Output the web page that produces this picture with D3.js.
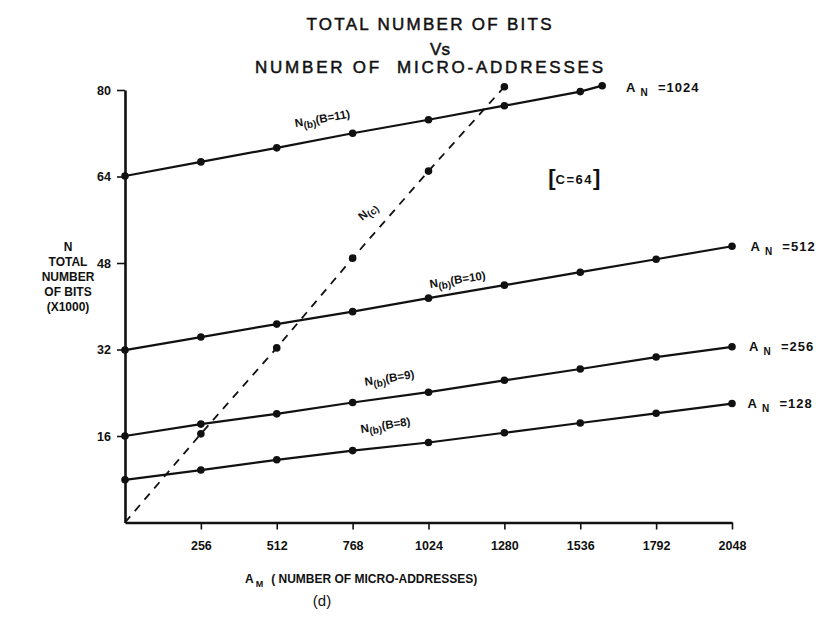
<!DOCTYPE html>
<html lang="en">
<head>
<meta charset="utf-8">
<title>Total number of bits vs number of micro-addresses</title>
<script src="https://d3js.org/d3.v7.min.js"></script>
<style>
  body { margin: 0; background: #fff; }
  svg text { font-family: "Liberation Sans", Arial, sans-serif; fill: #111; }
</style>
</head>
<body>
<script>
// values (N in thousands of bits)
const addrTicks = [256, 512, 768, 1024, 1280, 1536, 1792, 2048];
const bitTicks = [16, 32, 48, 64, 80];

const addr = [0, 256, 512, 768, 1024, 1280, 1536, 1792, 2048];
const b11Addr = [0, 256, 512, 768, 1024, 1280, 1536, 1610];
const b11Bits = [64.1, 66.7, 69.3, 72.0, 74.5, 77.1, 79.7, 80.8];
const b10Bits = [31.9, 34.3, 36.7, 39.0, 41.5, 43.9, 46.3, 48.7, 51.1];
const b9Bits = [16.0, 18.2, 20.1, 22.2, 24.1, 26.3, 28.4, 30.6, 32.5];
const b8Bits = [7.9, 9.7, 11.6, 13.3, 14.8, 16.6, 18.4, 20.2, 22.0];
const ncAddr = [0, 256, 512, 768, 1024, 1280];
const ncBits = [0, 16.4, 32.3, 48.9, 65.0, 80.6];

const W = 833, H = 624;
const svg = d3.select("body").append("svg")
    .attr("width", W).attr("height", H);

const x = d3.scaleLinear().domain([0, 2048]).range([125, 732]);
const y = d3.scaleLinear().domain([0, 80]).range([522.5, 90]);

// title
const title = [
    {t: "TOTAL NUMBER OF BITS", x: 429, y: 30, len: 245},
    {t: "Vs", x: 440, y: 55, len: 0},
    {t: "NUMBER OF  MICRO-ADDRESSES", x: 429, y: 73, len: 348}
];
title.forEach(d => {
    const tx = svg.append("text")
        .attr("x", d.x).attr("y", d.y)
        .attr("text-anchor", "middle")
        .attr("stroke", "#111").attr("stroke-width", 0.5)
        .style("font-size", "17px")
        .style("white-space", "pre")
        .text(d.t);
    if (d.len) tx.attr("textLength", d.len).attr("lengthAdjust", "spacing");
});

// axes
const xAxis = svg.append("g")
    .attr("transform", `translate(0,${y(0)})`)
    .call(d3.axisBottom(x).tickValues(addrTicks).tickFormat(d3.format("d"))
        .tickSize(7).tickSizeOuter(0).tickPadding(12));
const yAxis = svg.append("g")
    .attr("transform", `translate(${x(0)},0)`)
    .call(d3.axisLeft(y).tickValues(bitTicks).tickFormat(d3.format("d"))
        .tickSize(8).tickSizeOuter(0).tickPadding(6));

[xAxis, yAxis].forEach(g => {
    g.select(".domain").attr("stroke", "#111").attr("stroke-width", 2.6);
    g.selectAll(".tick line").attr("stroke", "#111").attr("stroke-width", 1.6);
    g.selectAll(".tick text")
        .style("font-family", "'Liberation Sans', Arial, sans-serif")
        .style("font-size", "12.5px").style("font-weight", "bold").attr("fill", "#111");
});

// y axis title
const ylab = ["N", "TOTAL", "NUMBER", "OF BITS", "(X1000)"];
svg.append("g").selectAll("text").data(ylab).join("text")
    .attr("x", 68).attr("y", (d, i) => 251 + i * 15)
    .attr("text-anchor", "middle")
    .style("font-size", "12px").style("font-weight", "bold")
    .text(d => d);

// x axis title
const xt = svg.append("text").attr("x", 245).attr("y", 583)
    .style("font-size", "12px").style("font-weight", "bold");
xt.append("tspan").text("A");
xt.append("tspan").attr("dy", 4).attr("dx", 2).style("font-size", "9px").text("M");
xt.append("tspan").attr("dy", -4).attr("dx", 8).text("( NUMBER OF MICRO-ADDRESSES)");

svg.append("text").attr("x", 322).attr("y", 606).attr("text-anchor", "middle")
    .style("font-size", "15px").text("(d)");

// series
const solid = [
    {xs: b11Addr, ys: b11Bits},
    {xs: addr, ys: b10Bits},
    {xs: addr, ys: b9Bits},
    {xs: addr, ys: b8Bits}
];
const line = d3.line().x(d => x(d[0])).y(d => y(d[1]));

solid.forEach(s => {
    const pts = s.xs.map((a, i) => [a, s.ys[i]]);
    svg.append("path").datum(pts)
        .attr("d", line)
        .attr("fill", "none").attr("stroke", "#111").attr("stroke-width", 2.2);
    svg.append("g").selectAll("circle").data(pts).join("circle")
        .attr("cx", d => x(d[0])).attr("cy", d => y(d[1]))
        .attr("r", 3.8).attr("fill", "#111");
});

const ncPts = ncAddr.map((a, i) => [a, ncBits[i]]);
svg.append("path").datum(ncPts)
    .attr("d", line)
    .attr("fill", "none").attr("stroke", "#111").attr("stroke-width", 1.8)
    .attr("stroke-dasharray", "8,7");
svg.append("g").selectAll("circle").data(ncPts.slice(1)).join("circle")
    .attr("cx", d => x(d[0])).attr("cy", d => y(d[1]))
    .attr("r", 3.8).attr("fill", "#111");

// curve labels
function curveLabel(ax, bits, rot, sub, rest) {
    const t = svg.append("text")
        .attr("transform", `translate(${x(ax)},${y(bits)}) rotate(${rot})`)
        .attr("text-anchor", "middle")
        .style("font-size", "11.5px").style("font-weight", "bold");
    t.append("tspan").text("N");
    t.append("tspan").attr("dy", 3).style("font-size", "10px").text(sub);
    t.append("tspan").attr("dy", -3).text(rest);
}
curveLabel(668, 74.0, -10, "(b)", "(B=11)");
curveLabel(1124, 44.2, -9, "(b)", "(B=10)");
curveLabel(894, 26.0, -9, "(b)", "(B=9)");
curveLabel(881, 17.3, -9, "(b)", "(B=8)");
curveLabel(827, 57.0, -40, "(c)", "");

// A_N labels
function anLabel(ax, bits, val) {
    const t = svg.append("text")
        .attr("x", x(ax)).attr("y", y(bits) + 4)
        .style("font-size", "13px").style("font-weight", "bold")
        .style("letter-spacing", "1px")
        .style("white-space", "pre");
    t.append("tspan").text("A ");
    t.append("tspan").attr("dy", 4).style("font-size", "10px").text("N");
    t.append("tspan").attr("dy", -4).text("  =" + val);
}
anLabel(1690, 80.4, 1024);
anLabel(2110, 51.0, 512);
anLabel(2105, 32.5, 256);
anLabel(2100, 22.0, 128);

// [C=64]
const cBox = svg.append("text").attr("x", x(1516)).attr("y", y(63.3) + 5)
    .attr("text-anchor", "middle")
    .style("font-weight", "bold");
cBox.append("tspan").style("font-size", "22px").text("[");
cBox.append("tspan").attr("dy", -1).style("font-size", "13px").style("letter-spacing", "1.5px").text("C=64");
cBox.append("tspan").attr("dy", 1).style("font-size", "22px").text("]");
</script>
</body>
</html>
